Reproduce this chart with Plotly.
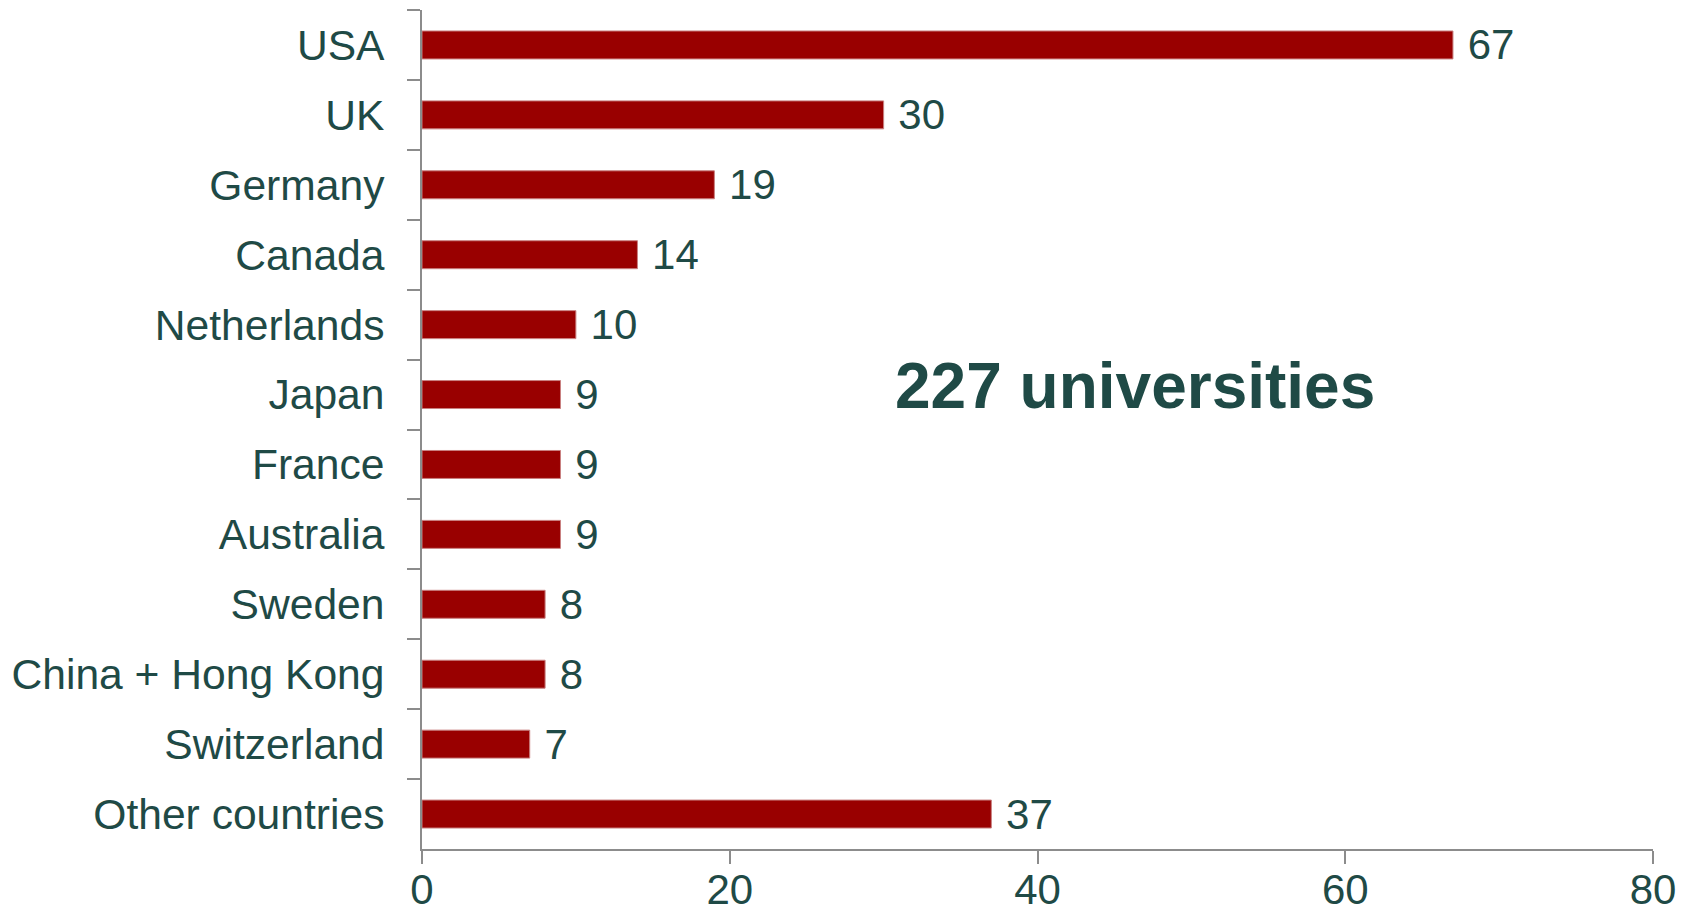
import plotly.graph_objects as go

countries = ["USA", "UK", "Germany", "Canada", "Netherlands", "Japan", "France",
             "Australia", "Sweden", "China + Hong Kong", "Switzerland", "Other countries"]
counts = [67, 30, 19, 14, 10, 9, 9, 9, 8, 8, 7, 37]
x_ticks = [0, 20, 40, 60, 80]
annotation_text = "227 universities"

TXT = "#1f4a46"
FONT = "Liberation Sans, Arial, sans-serif"

fig = go.Figure(go.Bar(
    x=counts, y=countries, orientation="h",
    marker=dict(color="#990000", line=dict(color="#c98080", width=1)),
    width=0.4,
    text=[" " + str(v) for v in counts], textposition="outside",
    textfont=dict(size=42, color=TXT, family=FONT),
    constraintext="none",
    cliponaxis=False,
))

fig.update_layout(
    width=1686, height=910,
    margin=dict(l=414, r=41, t=2, b=69),
    plot_bgcolor="white", paper_bgcolor="white",
    showlegend=False,
    font=dict(family=FONT, color=TXT, size=42),
    annotations=[dict(text="<b>" + annotation_text + "</b>", x=0.579, y=0.552,
                      xref="paper", yref="paper", showarrow=False,
                      font=dict(size=64, color=TXT, family=FONT))],
)
fig.update_xaxes(range=[0, 80], tickvals=x_ticks, showgrid=False, zeroline=False,
                 showline=True, linecolor="#8c8c8c", linewidth=2, automargin=False,
                 ticks="outside", ticklen=13, tickwidth=2, tickcolor="#8c8c8c",
                 tickfont=dict(size=42, color=TXT), ticklabelstandoff=-10)
fig.update_yaxes(categoryorder="array", categoryarray=countries, autorange="reversed",
                 showgrid=False, showline=True, linecolor="#8c8c8c", linewidth=2,
                 automargin=False,
                 ticks="outside", tickson="boundaries", ticklen=13, tickwidth=2,
                 tickcolor="#8c8c8c", tickfont=dict(size=42.6, color=TXT),
                 ticklabelstandoff=27)

fig.write_html("out.html")
